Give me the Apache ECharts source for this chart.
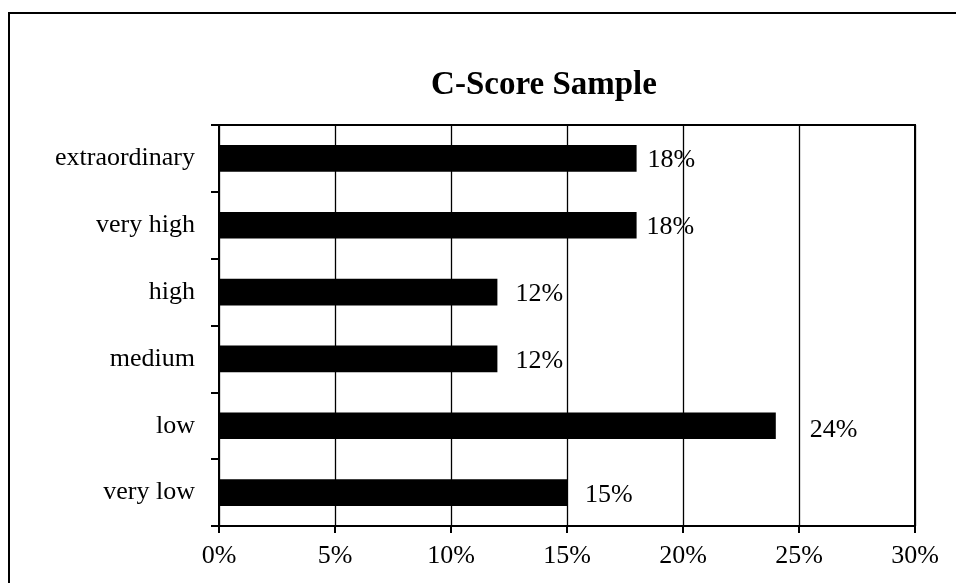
<!DOCTYPE html>
<html>
<head>
<meta charset="utf-8">
<title>C-Score Sample</title>
<script src="https://cdn.jsdelivr.net/npm/echarts@6/dist/echarts.min.js"></script>
<style>
  html, body { margin: 0; padding: 0; background: #fff; }
  #chart { width: 956px; height: 583px; }
</style>
</head>
<body>
<div id="chart"></div>
<script>
// Score bands, listed top to bottom as they appear on the chart
const categories = ['extraordinary', 'very high', 'high', 'medium', 'low', 'very low'];
// Share of the sample in each band (percent)
const shares = [18, 18, 12, 12, 24, 15];
// Value axis ticks (percent)
const xTicks = [0, 5, 10, 15, 20, 25, 30];

// Per-bar spacing of the value labels (gap to bar end, vertical nudge)
const labelGap = [11, 10, 18, 18, 34, 18];
const labelNudge = [2, 2, 2, 2, 4, 3];

const FONT = '"Liberation Serif", "Times New Roman", serif';
const chart = echarts.init(document.getElementById('chart'), null, { renderer: 'canvas' });

const option = {
  animation: false,
  backgroundColor: '#fff',
  textStyle: { fontFamily: FONT, color: '#000' },
  title: {
    text: 'C-Score Sample',
    left: 539,
    top: 64,
    textAlign: 'center',
    textStyle: { fontFamily: FONT, fontWeight: 'bold', fontSize: 33, color: '#000' }
  },
  graphic: [{
    type: 'rect',
    shape: { x: 9, y: 13, width: 1000, height: 700 },
    style: { fill: 'none', stroke: '#000', lineWidth: 2 },
    silent: true,
    z: 100
  }],
  grid: {
    left: 219,
    right: 41,
    top: 125,
    bottom: 57,
    show: true,
    borderColor: '#000',
    borderWidth: 2,
    backgroundColor: 'transparent'
  },
  xAxis: {
    type: 'value',
    min: xTicks[0],
    max: xTicks[xTicks.length - 1],
    interval: xTicks[1] - xTicks[0],
    axisLine: { show: true, lineStyle: { color: '#000', width: 2 } },
    axisTick: { show: true, length: 7, lineStyle: { color: '#000', width: 2 } },
    axisLabel: {
      formatter: '{value}%',
      fontFamily: FONT,
      fontSize: 26,
      color: '#000',
      margin: 17
    },
    splitLine: { show: true, lineStyle: { color: '#000', width: 1.3 } }
  },
  yAxis: {
    type: 'category',
    data: categories,
    inverse: true,
    axisLine: { show: true, lineStyle: { color: '#000', width: 2 } },
    axisTick: { show: true, length: 8, lineStyle: { color: '#000', width: 2 } },
    axisLabel: {
      fontFamily: FONT,
      fontSize: 26,
      color: '#000',
      margin: 24
    },
    splitLine: { show: false }
  },
  series: [{
    type: 'bar',
    barWidth: '40%',
    itemStyle: { color: '#000' },
    data: shares.map((v, i) => ({
      value: v,
      label: {
        show: true,
        position: 'right',
        distance: labelGap[i],
        offset: [0, labelNudge[i]],
        formatter: '{c}%',
        fontFamily: FONT,
        fontSize: 26,
        color: '#000'
      }
    })),
    z: 3
  }]
};

chart.setOption(option);
</script>
</body>
</html>
